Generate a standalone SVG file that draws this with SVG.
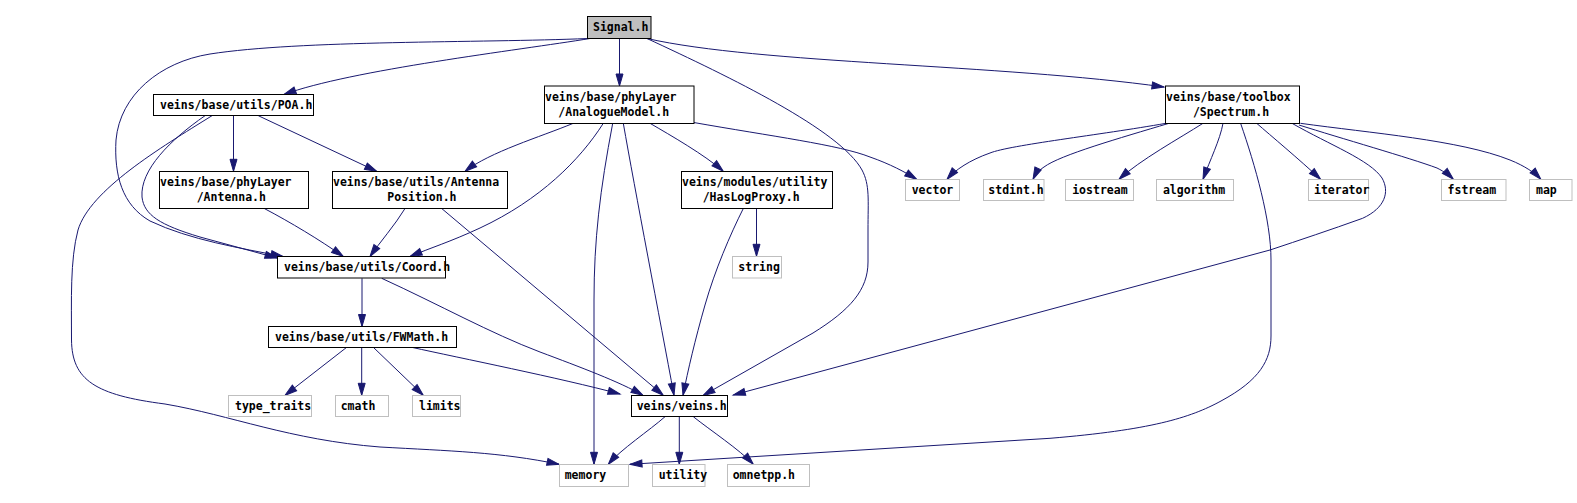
<svg xmlns="http://www.w3.org/2000/svg" width="1577" height="503" viewBox="0 0 1577 503">
<style>
.n rect{fill:#ffffff;stroke:#000000;stroke-width:1}
.x rect{fill:#ffffff;stroke:#bfbfbf;stroke-width:1}
.root rect{fill:#bfbfbf;stroke:#000000;stroke-width:1}
text{font-family:"DejaVu Sans Mono","Liberation Mono",monospace;font-weight:bold;font-size:11.5px;fill:#000000}
.e path{fill:none;stroke:#191970;stroke-width:1;marker-end:url(#ah)}
</style>
<defs>
<marker id="ah" markerUnits="userSpaceOnUse" markerWidth="12" markerHeight="7" viewBox="0 0 12 7" refX="12" refY="3.5" orient="auto" overflow="visible">
<path d="M0,0 L12,3.5 L0,7 z" fill="#191970" stroke="#191970" stroke-width="1"/>
</marker>
</defs>
<rect x="0" y="0" width="1577" height="503" fill="#ffffff"/>
<g id="edges" class="e">
<path d="M590,38.5 C520,50 350,70 284,94.5"/>
<path d="M619.5,38.5 L619.5,86"/>
<path d="M647,38.5 C760,64 1000,64 1164,87"/>
<path d="M588,38.5 C480,43 300,40 210,54 C160,62 120,95 116,140 C114,175 122,205 150,221 C190,240 240,248 283,256.5"/>
<path d="M647,38.5 C730,77 840,130 862,170 C870,185 868,200 868,230 L868,262 C868,290 850,310 813,333 L703,395.5"/>
<path d="M233.5,115.5 L233.5,171.3"/>
<path d="M258.3,115.7 L376.7,171.3"/>
<path d="M205,115.7 C170,140 140,170 142,197 C144,215 160,225 200,237 L277,258"/>
<path d="M212,115.7 C160,148 90,190 78,230 C70,260 71.5,300 71.5,340 C72,380 95,395 165,404 C230,415 290,440 380,447 C450,451 500,452 559,464.3"/>
<path d="M573.3,123.3 C540,137 490,152 465,171.3"/>
<path d="M603.3,123.3 C580,160 540,200 480,228 C450,242 430,248 410,256.5"/>
<path d="M612.7,123.3 C600,190 594,240 594,300 L594,464.3"/>
<path d="M623.3,123.3 C635,190 660,320 674,395.3"/>
<path d="M650,123.3 C670,135 705,155 723.3,171.3"/>
<path d="M693.7,122.5 C770,136 840,145 870,157 C890,164 905,172 916.7,179.3"/>
<path d="M1166,123.3 C1100,135 1010,145 990,153 C970,160 955,170 947,179.3"/>
<path d="M1169,123.3 C1120,138 1060,155 1044,167 C1038,171 1035,175 1033,179.3"/>
<path d="M1203,123.3 C1180,138 1140,160 1119,179.3"/>
<path d="M1223,123.3 C1220,140 1210,160 1203,179.3"/>
<path d="M1256.7,123.3 C1270,135 1300,160 1320.6,179.3"/>
<path d="M1299,125 C1340,138 1410,158 1437,168 C1445,172 1450,176 1453.4,179.3"/>
<path d="M1300.4,123.3 C1370,133 1460,140 1510,160 C1525,166 1535,173 1540.8,179.3"/>
<path d="M1292,123.3 C1330,145 1370,160 1382,178 C1390,192 1385,208 1362.6,218.3 C1330,230 1300,240 1270,250 L733.3,395"/>
<path d="M1240.6,123.3 C1255,165 1271,220 1271,260 L1271,336 C1271,360 1260,380 1221,401 C1190,418 1150,430 1050,438.3 L630,464.3"/>
<path d="M264.3,208.5 C290,222 320,240 343.3,256.5"/>
<path d="M405,208.5 C395,225 380,242 370,256.5"/>
<path d="M441.7,208.5 L663.3,395.3"/>
<path d="M756.5,208.5 L756.5,256.3"/>
<path d="M743.3,208.5 C730,235 715,270 705,305 C695,340 688,370 683,395.3"/>
<path d="M362,278.3 L362,326.5"/>
<path d="M381.7,278.3 C440,305 490,333 540,352 C580,367 620,382 643,395.3"/>
<path d="M346.7,347.3 L285,395.3"/>
<path d="M361.7,347.3 L361.7,395.3"/>
<path d="M373.3,347.3 L423.3,395.3"/>
<path d="M411.7,347.3 C460,358 560,378 620,394"/>
<path d="M665,416.7 C650,430 620,450 608.3,464.3"/>
<path d="M679.3,416.7 L679.3,464.3"/>
<path d="M693.3,416.7 C710,430 740,450 753.3,464.3"/>
</g>
<g id="n_signal" class="root"><rect x="587.5" y="16.5" width="63.5" height="22"/><text x="593" y="30.5">Signal.h</text></g>
<g id="n_poa" class="n"><rect x="153.5" y="94.5" width="160" height="21"/><text x="160" y="108.5">veins/base/utils/POA.h</text></g>
<g id="n_analogue" class="n"><rect x="544.5" y="86" width="149.5" height="37.5"/><text x="545" y="100.5">veins/base/phyLayer</text><text x="558.3" y="116">/AnalogueModel.h</text></g>
<g id="n_spectrum" class="n"><rect x="1165.5" y="86" width="134" height="37.5"/><text x="1166" y="100.5">veins/base/toolbox</text><text x="1192.9" y="116">/Spectrum.h</text></g>
<g id="n_antenna" class="n"><rect x="159.5" y="171.5" width="149" height="37"/><text x="160" y="185.5">veins/base/phyLayer</text><text x="196.7" y="201">/Antenna.h</text></g>
<g id="n_antpos" class="n"><rect x="332.5" y="171.5" width="175" height="37"/><text x="333" y="185.5">veins/base/utils/Antenna</text><text x="387.3" y="201">Position.h</text></g>
<g id="n_haslog" class="n"><rect x="681.5" y="171.5" width="151" height="37"/><text x="682" y="185.5">veins/modules/utility</text><text x="702.7" y="201">/HasLogProxy.h</text></g>
<g id="n_vector" class="x"><rect x="905.5" y="179.5" width="54" height="21"/><text x="911.7" y="193.5">vector</text></g>
<g id="n_stdint" class="x"><rect x="983.5" y="179.5" width="60.5" height="21"/><text x="988.3" y="193.5">stdint.h</text></g>
<g id="n_iostream" class="x"><rect x="1065.5" y="179.5" width="68" height="21"/><text x="1072.2" y="193.5">iostream</text></g>
<g id="n_algorithm" class="x"><rect x="1156.5" y="179.5" width="77" height="21"/><text x="1162.9" y="193.5">algorithm</text></g>
<g id="n_iterator" class="x"><rect x="1308.5" y="179.5" width="60" height="21"/><text x="1314" y="193.5">iterator</text></g>
<g id="n_fstream" class="x"><rect x="1441.5" y="179.5" width="64.5" height="21"/><text x="1447.6" y="193.5">fstream</text></g>
<g id="n_map" class="x"><rect x="1529.5" y="179.5" width="42.5" height="21"/><text x="1536" y="193.5">map</text></g>
<g id="n_string" class="x"><rect x="732.5" y="256.5" width="49" height="21.5"/><text x="738.3" y="270.5">string</text></g>
<g id="n_coord" class="n"><rect x="277.5" y="256.5" width="168" height="21.5"/><text x="284" y="270.5">veins/base/utils/Coord.h</text></g>
<g id="n_fwmath" class="n"><rect x="268.5" y="326.5" width="188" height="21"/><text x="275" y="340.5">veins/base/utils/FWMath.h</text></g>
<g id="n_typetraits" class="x"><rect x="228.5" y="395.5" width="83" height="21"/><text x="235" y="409.5">type_traits</text></g>
<g id="n_cmath" class="x"><rect x="335.5" y="395.5" width="53" height="21"/><text x="340.7" y="409.5">cmath</text></g>
<g id="n_limits" class="x"><rect x="412.5" y="395.5" width="48" height="21"/><text x="419" y="409.5">limits</text></g>
<g id="n_veins" class="n"><rect x="631.5" y="395.5" width="96" height="21"/><text x="636.7" y="409.5">veins/veins.h</text></g>
<g id="n_memory" class="x"><rect x="559.5" y="464.5" width="69" height="22"/><text x="564.7" y="478.5">memory</text></g>
<g id="n_utility" class="x"><rect x="652.5" y="464.5" width="52.5" height="22"/><text x="658.7" y="478.5">utility</text></g>
<g id="n_omnetpp" class="x"><rect x="727.5" y="464.5" width="82" height="22"/><text x="732.7" y="478.5">omnetpp.h</text></g>
</svg>
